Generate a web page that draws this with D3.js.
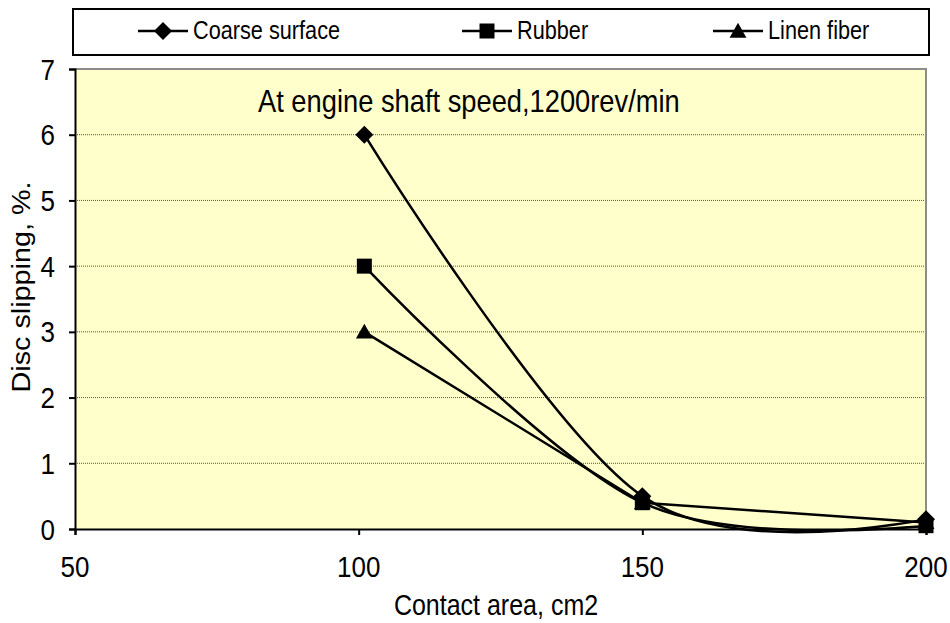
<!DOCTYPE html>
<html>
<head>
<meta charset="utf-8">
<script src="https://cdn.jsdelivr.net/npm/d3@7"></script>
<style>
  html, body { margin: 0; padding: 0; background: #ffffff; }
  svg { display: block; font-family: Arial, "Liberation Sans", sans-serif; }
</style>
</head>
<body>
<svg id="chart" width="950" height="623"></svg>
<script>
// ---- data ----
const xValues = [101, 150, 200];
const coarseSurface = [6, 0.5, 0.15];
const rubber = [4, 0.4, 0.05];
const linenFiber = [3, 0.4, 0.1];
const seriesNames = ["Coarse surface", "Rubber", "Linen fiber"];
const seriesSymbols = ["diamond", "square", "triangle"];
const seriesSmooth = [true, true, false];
const xTicks = [50, 100, 150, 200];
const yTicks = [0, 1, 2, 3, 4, 5, 6, 7];
const xTitle = "Contact area, cm2";
const yTitle = "Disc slipping, %.";
const annotation = "At engine shaft speed,1200rev/min";

const seriesValues = [coarseSurface, rubber, linenFiber];

// ---- layout ----
const svg = d3.select("#chart");
const plot = { left: 75, right: 926, top: 69, bottom: 529 };
const SY = 1.15; // vertical stretch of text in the reference

const x = d3.scaleLinear().domain([50, 200]).range([plot.left, plot.right]);
const y = d3.scaleLinear().domain([0, 7]).range([plot.bottom, plot.top]);

function stretchedText(parent, tx, ty, size, str, anchor, rot) {
  return parent.append("text")
    .attr("transform", `translate(${tx},${ty}) scale(1,${SY})` + (rot ? ` rotate(${rot})` : ""))
    .attr("text-anchor", anchor || "start")
    .attr("font-size", size)
    .attr("fill", "#000")
    .text(str);
}

// plot background
svg.append("rect")
  .attr("x", plot.left).attr("y", plot.top)
  .attr("width", plot.right - plot.left).attr("height", plot.bottom - plot.top)
  .attr("fill", "#FFFFCC");

// gridlines
svg.append("g").selectAll("line")
  .data(yTicks.filter(d => d > 0 && d < 7))
  .join("line")
  .attr("x1", plot.left).attr("x2", plot.right)
  .attr("y1", d => y(d)).attr("y2", d => y(d))
  .attr("stroke", "#555")
  .attr("stroke-width", 1)
  .attr("stroke-dasharray", "1,1");

// gray plot border top/right
svg.append("path")
  .attr("d", `M${plot.left},${plot.top}H${plot.right}V${plot.bottom}`)
  .attr("fill", "none").attr("stroke", "#8c8c8c").attr("stroke-width", 2);

// axes (lines + ticks from d3 axis, labels drawn stretched)
const yAxis = d3.axisLeft(y).tickValues(yTicks).tickSize(6).tickFormat("");
const gy = svg.append("g").attr("transform", `translate(${plot.left},0)`).call(yAxis);
gy.select(".domain").attr("stroke", "#000").attr("stroke-width", 2);
gy.selectAll(".tick line").attr("stroke", "#000").attr("stroke-width", 2);
yTicks.forEach(t => stretchedText(svg, 55, y(t) + 10.5, 26, d3.format("d")(t), "end"));

const xAxis = d3.axisBottom(x).tickValues(xTicks).tickSize(6).tickFormat("");
const gx = svg.append("g").attr("transform", `translate(0,${plot.bottom})`).call(xAxis);
gx.select(".domain").attr("stroke", "#000").attr("stroke-width", 2);
gx.selectAll(".tick line").attr("stroke", "#000").attr("stroke-width", 2);
xTicks.forEach(t => stretchedText(svg, x(t), 577, 26, d3.format("d")(t), "middle"));

// axis titles
stretchedText(svg, 496, 615, 25, xTitle, "middle");
stretchedText(svg, 30, 287, 25, yTitle, "middle", -90);

// annotation
stretchedText(svg, 258, 112, 27.3, annotation, "start");

// symbols
const symDiamond = { draw(ctx, size) { const r = Math.sqrt(size / 2);
  ctx.moveTo(0, -r); ctx.lineTo(r, 0); ctx.lineTo(0, r); ctx.lineTo(-r, 0); ctx.closePath(); } };
const symTriangle = { draw(ctx, size) { const w = Math.sqrt(size * 2 / 0.875) / 2, h = w * 1.75;
  ctx.moveTo(0, -h * 0.55); ctx.lineTo(w, h * 0.45); ctx.lineTo(-w, h * 0.45); ctx.closePath(); } };
const symbolType = { diamond: symDiamond, square: d3.symbolSquare, triangle: symTriangle };
const symbolSize = { diamond: 162, square: 225, triangle: 125 };

seriesValues.forEach((vals, i) => {
  const pts = xValues.map((xv, j) => [xv, vals[j]]);
  const line = d3.line()
    .x(d => x(d[0])).y(d => y(d[1]))
    .curve(seriesSmooth[i] ? d3.curveCardinal.tension(0) : d3.curveLinear);
  svg.append("path").datum(pts)
    .attr("d", line).attr("fill", "none")
    .attr("stroke", "#000").attr("stroke-width", 2.5);
});
seriesValues.forEach((vals, i) => {
  const sym = seriesSymbols[i];
  svg.append("g").selectAll("path")
    .data(xValues.map((xv, j) => [xv, vals[j]]))
    .join("path")
    .attr("transform", d => `translate(${x(d[0])},${y(d[1])})`)
    .attr("d", d3.symbol().type(symbolType[sym]).size(symbolSize[sym]))
    .attr("fill", "#000");
});

// legend
svg.append("rect")
  .attr("x", 73).attr("y", 9).attr("width", 856).attr("height", 46)
  .attr("fill", "#fff").attr("stroke", "#000").attr("stroke-width", 2);
const legendX = [163, 487, 738];
const legendY = 31;
seriesNames.forEach((name, i) => {
  const g = svg.append("g").attr("transform", `translate(${legendX[i]},${legendY})`);
  g.append("line").attr("x1", -25).attr("x2", 25).attr("y1", 0).attr("y2", 0)
    .attr("stroke", "#000").attr("stroke-width", 2.5);
  g.append("path")
    .attr("d", d3.symbol().type(symbolType[seriesSymbols[i]]).size(symbolSize[seriesSymbols[i]]))
    .attr("fill", "#000");
  stretchedText(g, 30, 8, 21.7, name, "start");
});
</script>
</body>
</html>
